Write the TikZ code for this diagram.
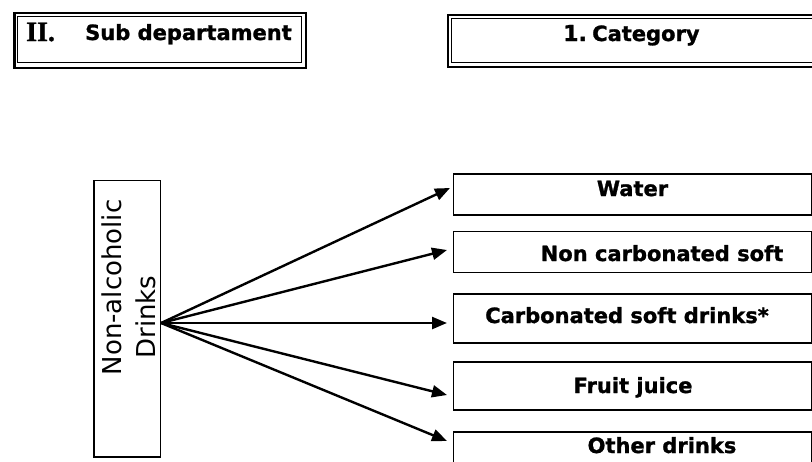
\documentclass[tikz,border=0pt]{standalone}
\usepackage{fontspec}
\setmainfont{DejaVu Sans}[BoldFeatures={FakeBold=1.2}]
\newfontfamily\numeralfont{Liberation Serif}[BoldFeatures={FakeBold=1}]
\usetikzlibrary{arrows.meta}
\begin{document}
\begin{tikzpicture}[x=1pt,y=-1pt,
  frame/.style={draw, rectangle, inner sep=0pt, anchor=north west},
  outerframe/.style={frame, line width=2.8pt},
  innerframe/.style={frame, line width=1.2pt},
  itembox/.style={frame, line width=1.6pt},
  headtext/.style={anchor=base west, inner sep=0pt, font=\bfseries\fontsize{21}{25}\selectfont},
  itemtext/.style={anchor=base, inner sep=0pt, font=\bfseries\fontsize{21}{25}\selectfont},
  sidetext/.style={anchor=base, inner sep=0pt, rotate=90, font=\fontsize{26}{30}\selectfont},
  link/.style={line width=2.4pt, -{Triangle[length=15pt,width=12pt]}}]
\useasboundingbox (0,0) rectangle (812,461);

% header: sub department
\node[outerframe, minimum width=291.5pt, minimum height=55pt] (subdep) at (13,11.5) {};
\node[innerframe, minimum width=283.5pt, minimum height=46pt] (subdepin) at (17,16) {};
\node[headtext, font=\numeralfont\bfseries\fontsize{28}{32}\selectfont] (roman) at (26,41) {II.};
\node[headtext] (subdeplbl) at (85,40) {Sub departament};

% header: category
\node[outerframe, minimum width=400pt, minimum height=52pt] (cat) at (446.5,13.5) {};
\node[innerframe, minimum width=400pt, minimum height=44pt] (catin) at (450.5,17.5) {};
\node[headtext, font=\bfseries\fontsize{22}{26}\selectfont] (catnum) at (563,41) {1.};
\node[headtext] (catlbl) at (592,41) {Category};

% source box
\node[itembox, minimum width=66.5pt, minimum height=276.5pt] (drinks) at (93,179.5) {};
\node[sidetext] (drinksa) at (121.5,287.5) {Non-alcoholic};
\node[sidetext] (drinksb) at (155,317) {Drinks};

% category boxes
\node[itembox, minimum width=358.5pt, minimum height=41pt] (water) at (452.5,173) {};
\node[itembox, minimum width=358.5pt, minimum height=41pt] (noncarb) at (452.5,230.5) {};
\node[itembox, minimum width=358.5pt, minimum height=49pt] (carb) at (452.5,293) {};
\node[itembox, minimum width=358.5pt, minimum height=48pt] (fruit) at (452.5,361) {};
\node[itembox, minimum width=358.5pt, minimum height=48pt] (other) at (452.5,431) {};

\node[itemtext] (waterlbl) at (632.5,196) {Water};
\node[itemtext] (noncarblbl) at (662,261) {Non carbonated soft};
\node[itemtext] (carblbl) at (627,323) {Carbonated soft drinks*};
\node[itemtext] (fruitlbl) at (633,393) {Fruit juice};
\node[itemtext] (otherlbl) at (662,453) {Other drinks};

% connectors
\coordinate (srcrow) at (0,323);
\coordinate (src) at (drinks.east |- srcrow);
\coordinate (tipwater) at (450,188);
\coordinate (tipnoncarb) at (447,250);
\coordinate (tipcarb) at (447,323);
\coordinate (tipfruit) at (447,395);
\coordinate (tipother) at (447,441);
\draw[link] (src) -- (tipwater);
\draw[link] (src) -- (tipnoncarb);
\draw[link] (src) -- (tipcarb);
\draw[link] (src) -- (tipfruit);
\draw[link] (src) -- (tipother);
\end{tikzpicture}
\end{document}
